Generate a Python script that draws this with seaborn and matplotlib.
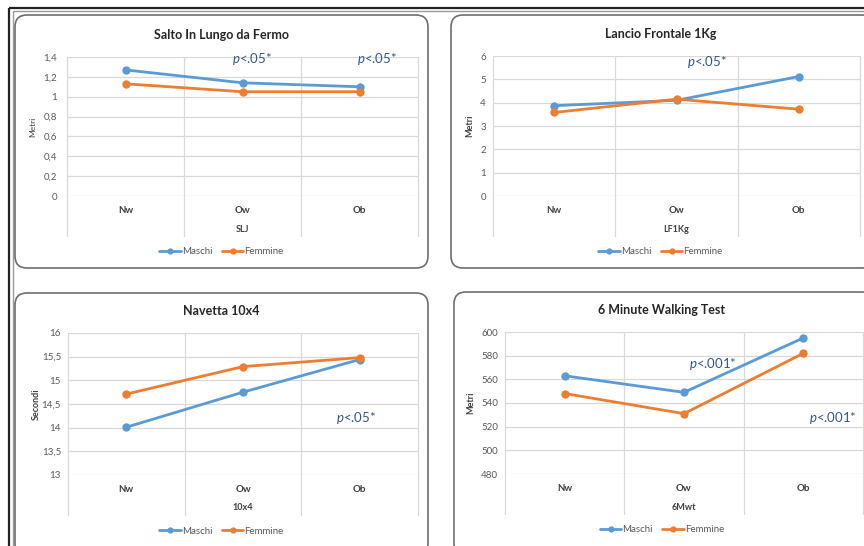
import pandas as pd
import seaborn as sns
import matplotlib
matplotlib.use("Agg")
import matplotlib.pyplot as plt
from matplotlib.patches import FancyBboxPatch, Rectangle
from matplotlib.lines import Line2D

# ---- data -------------------------------------------------------------
categories = ["Nw", "Ow", "Ob"]
series_names = ["Maschi", "Femmine"]

slj_maschi = [1.27, 1.14, 1.10]
slj_femmine = [1.13, 1.05, 1.05]
slj_ticks = [0, 0.2, 0.4, 0.6, 0.8, 1.0, 1.2, 1.4]
slj_tick_labels = ["0", "0,2", "0,4", "0,6", "0,8", "1", "1,2", "1,4"]

lf_maschi = [3.87, 4.10, 5.12]
lf_femmine = [3.58, 4.15, 3.72]
lf_ticks = [0, 1, 2, 3, 4, 5, 6]
lf_tick_labels = ["0", "1", "2", "3", "4", "5", "6"]

nav_maschi = [14.01, 14.75, 15.44]
nav_femmine = [14.71, 15.29, 15.48]
nav_ticks = [13, 13.5, 14, 14.5, 15, 15.5, 16]
nav_tick_labels = ["13", "13,5", "14", "14,5", "15", "15,5", "16"]

mwt_maschi = [563, 549, 595]
mwt_femmine = [548, 531, 582]
mwt_ticks = [480, 500, 520, 540, 560, 580, 600]
mwt_tick_labels = ["480", "500", "520", "540", "560", "580", "600"]

# ---- style ------------------------------------------------------------
sns.set_theme(style="white")
plt.rcParams["font.family"] = ["Lato", "DejaVu Sans"]
plt.rcParams["mathtext.fontset"] = "custom"
plt.rcParams["mathtext.it"] = "Lato:italic"
plt.rcParams["mathtext.rm"] = "Lato"

W, H = 864, 546
BLUE, ORANGE = "#5B9BD5", "#ED7D31"
GRID = "#D9D9D9"
TICK = "#595959"
PCOL = "#34568B"

fig = plt.figure(figsize=(W / 100, H / 100), dpi=100)
fig.patch.set_facecolor("white")

# background canvas in pixel units for frames and rounded boxes
bg = fig.add_axes([0, 0, 1, 1], zorder=0)
bg.set_xlim(0, W)
bg.set_ylim(H, 0)
bg.axis("off")
bg.add_patch(Rectangle((9, 7.5), 900, 600, fill=False, ec="#222222", lw=1.6))
bg.add_patch(Rectangle((12.5, 11), 900, 600, fill=False, ec="#9A9A9A", lw=1.0))


def px_rect(left, top, right, bottom):
    return [left / W, 1 - bottom / H, (right - left) / W, (bottom - top) / H]


panels = [
    dict(title="Salto In Lungo da Fermo", xlabel="SLJ", ylabel="Metri", ybold=False,
         m=slj_maschi, f=slj_femmine, ticks=slj_ticks, labels=slj_tick_labels,
         box=(15, 15, 428, 268), ax=(67, 57, 418, 196), ylab_x=33, tpad=10,
         pvals=[(1.08, 1.38, r"$p$<.05*"), (2.15, 1.38, r"$p$<.05*")]),
    dict(title="Lancio Frontale 1Kg", xlabel="LF1Kg", ylabel="Metri", ybold=True,
         m=lf_maschi, f=lf_femmine, ticks=lf_ticks, labels=lf_tick_labels,
         box=(451, 15, 874, 268), ax=(493, 56, 860, 196), ylab_x=470, tpad=7,
         pvals=[(1.25, 5.74, r"$p$<.05*")]),
    dict(title="Navetta 10x4", xlabel="10x4", ylabel="Secondi", ybold=True,
         m=nav_maschi, f=nav_femmine, ticks=nav_ticks, labels=nav_tick_labels,
         box=(15, 293, 428, 556), ax=(68, 333, 418, 475), ylab_x=36, tpad=7,
         pvals=[(1.97, 14.2, r"$p$<.05*")]),
    dict(title="6 Minute Walking Test", xlabel="6Mwt", ylabel="Metri", ybold=True,
         m=mwt_maschi, f=mwt_femmine, ticks=mwt_ticks, labels=mwt_tick_labels,
         box=(454, 292, 874, 556), ax=(505, 332, 863, 474), ylab_x=471, tpad=7,
         pvals=[(1.24, 573, r"$p$<.001*"), (2.25, 527, r"$p$<.001*")]),
]

for p in panels:
    bl, bt, br, bb = p["box"]
    bg.add_patch(FancyBboxPatch((bl, bt), br - bl, bb - bt,
                                boxstyle="round,pad=0,rounding_size=12",
                                fc="white", ec="#6E6E6E", lw=1.2))

    l, t, r, b = p["ax"]
    ax = fig.add_axes(px_rect(l, t, r, b), zorder=2)
    ax.set_facecolor("none")

    df = pd.DataFrame({
        "Gruppo": categories * 2,
        "Valore": list(p["m"]) + list(p["f"]),
        "Sesso": [series_names[0]] * 3 + [series_names[1]] * 3,
    })
    sns.lineplot(data=df, x="Gruppo", y="Valore", hue="Sesso",
                 palette=[BLUE, ORANGE], marker="o", markersize=6,
                 markeredgewidth=0, linewidth=2.0, sort=False,
                 legend=False, ax=ax, zorder=5)

    ax.set_xlim(-0.5, 2.5)
    ax.set_ylim(p["ticks"][0], p["ticks"][-1])
    ax.set_yticks(p["ticks"])
    ax.set_yticklabels(p["labels"])
    ax.set_xticks(range(len(categories)))
    ax.set_xticklabels(categories, fontweight="bold", color="#404040")
    ax.tick_params(axis="y", length=0, labelsize=7, labelcolor=TICK, pad=p["tpad"] * 0.72)
    ax.tick_params(axis="x", length=0, labelsize=7, pad=7)
    for s in ax.spines.values():
        s.set_visible(False)
    ax.yaxis.grid(True, color=GRID, lw=0.9)
    ax.set_axisbelow(True)

    # category boundaries run down past the category labels
    ext = 40 / (b - t)
    for xb in [-0.5, 0.5, 1.5, 2.5]:
        ax.add_line(Line2D([xb, xb], [-ext, 1], transform=ax.get_xaxis_transform(),
                           color=GRID, lw=0.9, clip_on=False, zorder=0))

    ax.set_xlabel(p["xlabel"], fontsize=6.5, fontweight="bold", color="#404040")
    ax.xaxis.set_label_coords(0.5, -(33 / (b - t)))
    ax.xaxis.label.set_va("center")
    ax.set_ylabel(p["ylabel"], fontsize=6.5 if p["ybold"] else 6,
                  fontweight="bold" if p["ybold"] else "normal", color="#404040")
    ax.yaxis.set_label_coords((p["ylab_x"] - l) / (r - l), 0.5)
    ax.yaxis.label.set_va("center")

    for xp, yp, txt in p["pvals"]:
        ax.text(xp, yp, txt, ha="center", va="center", fontsize=9.5, color=PCOL, zorder=6)

    # chart title and legend centred on the chart box
    cx = (bl + min(br, 870)) / 2
    fig.text(cx / W, 1 - (t - 22) / H, p["title"], ha="center", va="center",
             fontsize=9, fontweight="bold", color="#262626")
    handles = [Line2D([], [], color=c, marker="o", markersize=4.5, lw=2.0,
                      markeredgewidth=0) for c in (BLUE, ORANGE)]
    leg = fig.legend(handles, series_names, loc="center", ncol=2, frameon=False,
                     bbox_to_anchor=(cx / W, 1 - (b + 56) / H), fontsize=7,
                     handlelength=2.2, handletextpad=0.1, columnspacing=1.0)
    for txt in leg.get_texts():
        txt.set_color(TICK)

fig.savefig("out.png", dpi=100)
